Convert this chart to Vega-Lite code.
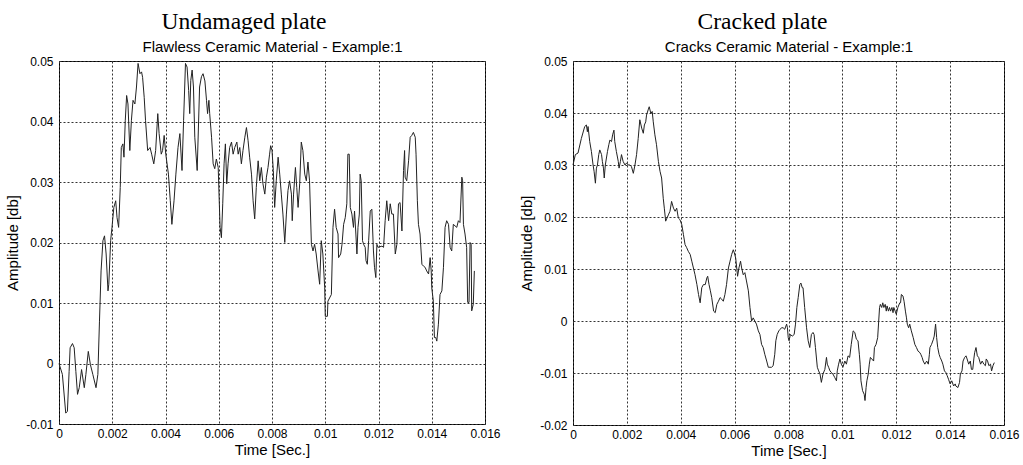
{
  "$schema": "https://vega.github.io/schema/vega-lite/v6.json",
  "background": "white",
  "padding": {"left": 5, "top": 9, "right": 5, "bottom": 2},
  "spacing": 18,
  "config": {
    "view": {"stroke": "#000", "strokeWidth": 1},
    "font": "Liberation Sans",
    "axis": {"labelFont": "Liberation Sans", "labelFontSize": 12, "labelColor": "#000", "titleFont": "Liberation Sans", "titleFontSize": 15, "titleFontWeight": "normal", "titleColor": "#000", "domain": false, "ticks": false, "tickSize": 0, "gridColor": "#333", "gridDash": [2, 2], "gridWidth": 1, "gridOpacity": 1, "labelFlush": false, "labelOverlap": false},
    "title": {"font": "Liberation Serif", "fontSize": 23.5, "fontWeight": "normal", "color": "#000", "anchor": "middle", "frame": "group"}
  },
  "datasets": {
    "left": [
      {"t":0,"a":0},{"t":0.000127,"a":-0.0018},{"t":0.000253,"a":-0.0082},{"t":0.000316,"a":-0.0079},{"t":0.00038,"a":-0.0013},{"t":0.000418,"a":0.0026},{"t":0.000506,"a":0.0033},{"t":0.00057,"a":0.0026},{"t":0.000633,"a":-0.0013},{"t":0.000696,"a":-0.0051},{"t":0.00076,"a":-0.004},{"t":0.000848,"a":-0.001},{"t":0.00095,"a":-0.004},{"t":0.00101,"a":-0.0018},{"t":0.0011,"a":0.002},{"t":0.00118,"a":-0.0002},{"t":0.00127,"a":-0.0018},{"t":0.00139,"a":-0.004},{"t":0.00146,"a":-0.0018},{"t":0.00152,"a":0.007},{"t":0.00158,"a":0.0153},{"t":0.00165,"a":0.0203},{"t":0.00171,"a":0.0211},{"t":0.00177,"a":0.0181},{"t":0.00184,"a":0.012},{"t":0.00187,"a":0.0131},{"t":0.00194,"a":0.0203},{"t":0.00199,"a":0.0225},{"t":0.00206,"a":0.0258},{"t":0.00213,"a":0.0269},{"t":0.00218,"a":0.0241},{"t":0.00224,"a":0.0225},{"t":0.0023,"a":0.0291},{"t":0.00234,"a":0.0357},{"t":0.0024,"a":0.0363},{"t":0.00244,"a":0.0341},{"t":0.00249,"a":0.0402},{"t":0.00254,"a":0.0443},{"t":0.00259,"a":0.0429},{"t":0.00266,"a":0.0352},{"t":0.00272,"a":0.0402},{"t":0.00278,"a":0.0435},{"t":0.00285,"a":0.0429},{"t":0.00291,"a":0.0457},{"t":0.00297,"a":0.0496},{"t":0.00304,"a":0.0479},{"t":0.0031,"a":0.0482},{"t":0.00314,"a":0.0473},{"t":0.0032,"a":0.044},{"t":0.00325,"a":0.0402},{"t":0.00333,"a":0.0352},{"t":0.00342,"a":0.0357},{"t":0.00348,"a":0.0346},{"t":0.00356,"a":0.033},{"t":0.00363,"a":0.0352},{"t":0.00371,"a":0.0413},{"t":0.00376,"a":0.038},{"t":0.00384,"a":0.0346},{"t":0.00389,"a":0.0352},{"t":0.00395,"a":0.0377},{"t":0.00401,"a":0.0346},{"t":0.00411,"a":0.0313},{"t":0.00418,"a":0.0269},{"t":0.00424,"a":0.023},{"t":0.00432,"a":0.0269},{"t":0.00439,"a":0.0313},{"t":0.00447,"a":0.0357},{"t":0.00454,"a":0.038},{"t":0.00462,"a":0.0319},{"t":0.00468,"a":0.0402},{"t":0.00475,"a":0.0496},{"t":0.00481,"a":0.049},{"t":0.00487,"a":0.0451},{"t":0.00491,"a":0.0413},{"t":0.00495,"a":0.0468},{"t":0.005,"a":0.0485},{"t":0.00505,"a":0.0457},{"t":0.0051,"a":0.0374},{"t":0.00519,"a":0.0319},{"t":0.00528,"a":0.0457},{"t":0.00535,"a":0.0474},{"t":0.00541,"a":0.0479},
      {"t":0.00548,"a":0.0467},{"t":0.00554,"a":0.0435},{"t":0.00558,"a":0.0413},{"t":0.00563,"a":0.0435},{"t":0.00566,"a":0.0413},{"t":0.00573,"a":0.0374},{"t":0.00579,"a":0.033},{"t":0.00585,"a":0.0322},{"t":0.00591,"a":0.0338},{"t":0.00598,"a":0.0324},{"t":0.00601,"a":0.028},{"t":0.00605,"a":0.0225},{"t":0.0061,"a":0.0208},{"t":0.00615,"a":0.0264},{"t":0.0062,"a":0.033},{"t":0.00625,"a":0.0363},{"t":0.0063,"a":0.0297},{"t":0.00635,"a":0.033},{"t":0.00641,"a":0.0357},{"t":0.00648,"a":0.0366},{"t":0.00654,"a":0.0346},{"t":0.0066,"a":0.0357},{"t":0.00668,"a":0.0366},{"t":0.00673,"a":0.0346},{"t":0.00679,"a":0.0357},{"t":0.00685,"a":0.033},{"t":0.00691,"a":0.0352},{"t":0.00698,"a":0.0374},{"t":0.00704,"a":0.039},{"t":0.0071,"a":0.0369},{"t":0.00716,"a":0.0341},{"t":0.00723,"a":0.0313},{"t":0.00729,"a":0.0269},{"t":0.00735,"a":0.0239},{"t":0.00741,"a":0.0291},{"t":0.00748,"a":0.0335},{"t":0.00754,"a":0.0302},{"t":0.0076,"a":0.0324},{"t":0.00766,"a":0.0297},{"t":0.00773,"a":0.028},{"t":0.00779,"a":0.0308},{"t":0.00785,"a":0.0324},{"t":0.00791,"a":0.0346},{"t":0.00795,"a":0.036},{"t":0.008,"a":0.0352},{"t":0.00805,"a":0.0319},{"t":0.0081,"a":0.0258},{"t":0.00816,"a":0.0302},{"t":0.00823,"a":0.0341},{"t":0.00829,"a":0.0313},{"t":0.00835,"a":0.028},{"t":0.00841,"a":0.0247},{"t":0.00848,"a":0.02},{"t":0.00854,"a":0.0247},{"t":0.0086,"a":0.0286},{"t":0.00866,"a":0.0302},{"t":0.00873,"a":0.028},{"t":0.00876,"a":0.0236},{"t":0.00881,"a":0.028},{"t":0.00888,"a":0.0324},{"t":0.00893,"a":0.0291},{"t":0.00898,"a":0.0258},{"t":0.00904,"a":0.0297},{"t":0.0091,"a":0.0366},{"t":0.00916,"a":0.0352},{"t":0.00923,"a":0.0313},{"t":0.00929,"a":0.0302},{"t":0.00935,"a":0.0333},{"t":0.00941,"a":0.0302},{"t":0.00948,"a":0.0197},{"t":0.00954,"a":0.0186},{"t":0.0096,"a":0.0197},{"t":0.00966,"a":0.0181},{"t":0.00973,"a":0.0153},{"t":0.00979,"a":0.0131},{"t":0.00985,"a":0.0203},{"t":0.00991,"a":0.0181},{"t":0.00998,"a":0.0125},{"t":0.01,"a":0.0078},{"t":0.01008,"a":0.0078},{"t":0.0101,"a":0.0103},{"t":0.01023,"a":0.0114},{"t":0.01029,"a":0.0225},{"t":0.01035,"a":0.0255},{"t":0.01041,"a":0.0225},{"t":0.01048,"a":0.0214},{"t":0.0105,"a":0.0175},{"t":0.01058,"a":0.0181},{"t":0.01063,"a":0.0197},{"t":0.01069,"a":0.023},
      {"t":0.01075,"a":0.0241},{"t":0.01081,"a":0.0264},{"t":0.01085,"a":0.0346},{"t":0.0109,"a":0.0346},{"t":0.01094,"a":0.0258},{"t":0.011,"a":0.0247},{"t":0.01106,"a":0.0225},{"t":0.0111,"a":0.0252},{"t":0.01115,"a":0.0214},{"t":0.01119,"a":0.0181},{"t":0.01123,"a":0.0225},{"t":0.01128,"a":0.0247},{"t":0.01131,"a":0.0313},{"t":0.01135,"a":0.0302},{"t":0.0114,"a":0.0203},{"t":0.01144,"a":0.0197},{"t":0.0115,"a":0.0192},{"t":0.01153,"a":0.017},{"t":0.01158,"a":0.0164},{"t":0.01163,"a":0.0203},{"t":0.01169,"a":0.0252},{"t":0.01175,"a":0.0255},{"t":0.01181,"a":0.0186},{"t":0.01185,"a":0.0159},{"t":0.0119,"a":0.0142},{"t":0.01194,"a":0.0197},{"t":0.01198,"a":0.0192},{"t":0.01213,"a":0.0194},{"t":0.01219,"a":0.0192},{"t":0.01225,"a":0.0236},{"t":0.01231,"a":0.0269},{"t":0.01238,"a":0.0236},{"t":0.01244,"a":0.0264},{"t":0.0125,"a":0.0247},{"t":0.01256,"a":0.0247},{"t":0.01263,"a":0.0181},{"t":0.01269,"a":0.0197},{"t":0.01275,"a":0.0264},{"t":0.01281,"a":0.0266},{"t":0.01288,"a":0.0219},{"t":0.01294,"a":0.0319},{"t":0.01298,"a":0.0352},{"t":0.013,"a":0.0308},{"t":0.01306,"a":0.0302},{"t":0.01313,"a":0.0335},{"t":0.01319,"a":0.0374},{"t":0.01325,"a":0.0377},{"t":0.01331,"a":0.0382},{"t":0.01338,"a":0.0374},{"t":0.01341,"a":0.0346},{"t":0.01346,"a":0.0269},{"t":0.0135,"a":0.023},{"t":0.01356,"a":0.0214},{"t":0.01363,"a":0.0164},{"t":0.01369,"a":0.0161},{"t":0.01375,"a":0.0159},{"t":0.01381,"a":0.0153},{"t":0.01388,"a":0.0148},{"t":0.01394,"a":0.0175},{"t":0.01398,"a":0.0153},{"t":0.014,"a":0.0125},{"t":0.01406,"a":0.0103},{"t":0.0141,"a":0.0043},{"t":0.01415,"a":0.0043},{"t":0.01419,"a":0.0037},{"t":0.01425,"a":0.0065},{"t":0.01431,"a":0.0114},{"t":0.01438,"a":0.012},{"t":0.01444,"a":0.0159},{"t":0.0145,"a":0.0225},{"t":0.01456,"a":0.0236},{"t":0.01463,"a":0.023},{"t":0.01469,"a":0.0192},{"t":0.01475,"a":0.0186},{"t":0.01481,"a":0.023},{"t":0.01494,"a":0.0225},{"t":0.015,"a":0.0236},{"t":0.01506,"a":0.0233},{"t":0.01513,"a":0.0308},{"t":0.01516,"a":0.0302},{"t":0.01519,"a":0.023},{"t":0.01525,"a":0.0214},{"t":0.01531,"a":0.0192},{"t":0.01535,"a":0.0101},{"t":0.0154,"a":0.0101},{"t":0.01544,"a":0.02},{"t":0.01548,"a":0.0197},{"t":0.0155,"a":0.0087},{"t":0.01556,"a":0.0098},{"t":0.0156,"a":0.0153}
    ],
    "right": [
      {"t":0,"a":0.03},{"t":0.000087,"a":0.032},{"t":0.000186,"a":0.0323},{"t":0.00031,"a":0.0351},{"t":0.000435,"a":0.0374},{"t":0.000497,"a":0.0377},{"t":0.000534,"a":0.0364},{"t":0.000559,"a":0.0374},{"t":0.000621,"a":0.0345},{"t":0.000683,"a":0.0326},{"t":0.000745,"a":0.03},{"t":0.000782,"a":0.0288},{"t":0.000832,"a":0.0265},{"t":0.000869,"a":0.0294},{"t":0.000907,"a":0.03},{"t":0.000956,"a":0.032},{"t":0.000994,"a":0.0329},{"t":0.00106,"a":0.032},{"t":0.00109,"a":0.0307},{"t":0.00113,"a":0.0294},{"t":0.00116,"a":0.0275},{"t":0.0012,"a":0.03},{"t":0.00128,"a":0.0326},{"t":0.00133,"a":0.0339},{"t":0.00137,"a":0.0348},{"t":0.00143,"a":0.0345},{"t":0.00147,"a":0.0358},{"t":0.00152,"a":0.0367},{"t":0.00155,"a":0.0345},{"t":0.00161,"a":0.0326},{"t":0.00168,"a":0.0307},{"t":0.00171,"a":0.0294},{"t":0.00176,"a":0.0307},{"t":0.0018,"a":0.032},{"t":0.00186,"a":0.0307},{"t":0.00193,"a":0.03},{"t":0.00199,"a":0.0304},{"t":0.00205,"a":0.03},{"t":0.00211,"a":0.03},{"t":0.00217,"a":0.0297},{"t":0.00224,"a":0.0284},{"t":0.0023,"a":0.03},{"t":0.00236,"a":0.032},{"t":0.00242,"a":0.0351},{"t":0.00248,"a":0.0387},{"t":0.00255,"a":0.0371},{"t":0.00261,"a":0.0361},{"t":0.00265,"a":0.0377},{"t":0.0027,"a":0.0383},{"t":0.00273,"a":0.0396},{"t":0.00279,"a":0.0406},{"t":0.00283,"a":0.0412},{"t":0.00289,"a":0.0399},{"t":0.00294,"a":0.0403},{"t":0.00298,"a":0.0383},{"t":0.00304,"a":0.0358},{"t":0.0031,"a":0.0339},{"t":0.00317,"a":0.0307},{"t":0.00323,"a":0.0288},{"t":0.00329,"a":0.0275},{"t":0.00335,"a":0.0236},{"t":0.00339,"a":0.0217},{"t":0.00344,"a":0.0192},{"t":0.00349,"a":0.0198},{"t":0.00354,"a":0.0204},{"t":0.0036,"a":0.0211},{"t":0.00366,"a":0.023},{"t":0.00373,"a":0.0217},{"t":0.00379,"a":0.0211},{"t":0.00385,"a":0.0217},{"t":0.00391,"a":0.0198},{"t":0.00397,"a":0.0195},{"t":0.00404,"a":0.0185},{"t":0.0041,"a":0.0166},{"t":0.00416,"a":0.0147},{"t":0.00422,"a":0.0141},{"t":0.00428,"a":0.0134},{"t":0.00435,"a":0.0128},{"t":0.00441,"a":0.0115},{"t":0.00447,"a":0.0102},{"t":0.00453,"a":0.0089},{"t":0.0046,"a":0.007},{"t":0.00466,"a":0.0051},{"t":0.00472,"a":0.0035},{"t":0.00478,"a":0.0064},{"t":0.00484,"a":0.007},{"t":0.00491,"a":0.007},{"t":0.00497,"a":0.0083},{"t":0.005,"a":0.0086},{"t":0.00505,"a":0.007},{"t":0.0051,"a":0.0058},{"t":0.00515,"a":0.0045},{"t":0.00522,"a":0.0019},{"t":0.00528,"a":0.0016},{"t":0.00534,"a":0.0032},{"t":0.0054,"a":0.0038},
      {"t":0.00546,"a":0.0045},{"t":0.00552,"a":0.0042},{"t":0.00558,"a":0.0038},{"t":0.00564,"a":0.0051},{"t":0.0057,"a":0.007},{"t":0.00577,"a":0.0102},{"t":0.00583,"a":0.0115},{"t":0.00589,"a":0.0128},{"t":0.00595,"a":0.0137},{"t":0.00599,"a":0.0131},{"t":0.00604,"a":0.0121},{"t":0.00611,"a":0.0086},{"t":0.00616,"a":0.0102},{"t":0.00622,"a":0.0115},{"t":0.00626,"a":0.0102},{"t":0.00632,"a":0.0089},{"t":0.00638,"a":0.0093},{"t":0.00644,"a":0.0077},{"t":0.00651,"a":0.0058},{"t":0.00657,"a":0.0026},{"t":0.00663,"a":0},{"t":0.00669,"a":0.0006},{"t":0.00675,"a":0},{"t":0.00681,"a":-0.0006},{"t":0.00688,"a":-0.0019},{"t":0.00694,"a":-0.0026},{"t":0.007,"a":-0.0045},{"t":0.00706,"a":-0.0051},{"t":0.00712,"a":-0.0064},{"t":0.00719,"a":-0.0077},{"t":0.00725,"a":-0.0089},{"t":0.00731,"a":-0.0089},{"t":0.00737,"a":-0.0089},{"t":0.00743,"a":-0.0086},{"t":0.00749,"a":-0.0064},{"t":0.00753,"a":-0.0038},{"t":0.00758,"a":-0.0026},{"t":0.00764,"a":-0.0019},{"t":0.00769,"a":-0.0016},{"t":0.00774,"a":-0.0013},{"t":0.0078,"a":-0.0013},{"t":0.00786,"a":-0.0016},{"t":0.00793,"a":-0.0006},{"t":0.00796,"a":-0.0013},{"t":0.00799,"a":-0.0032},{"t":0.00802,"a":-0.0038},{"t":0.00807,"a":-0.0026},{"t":0.00814,"a":-0.0029},{"t":0.00821,"a":-0.0026},{"t":0.00826,"a":-0.0006},{"t":0.00831,"a":0.0026},{"t":0.00836,"a":0.0045},{"t":0.00842,"a":0.007},{"t":0.00846,"a":0.0073},{"t":0.00851,"a":0.0064},{"t":0.00854,"a":0.0064},{"t":0.0086,"a":0.0026},{"t":0.00867,"a":-0.0013},{"t":0.00873,"a":-0.0038},{"t":0.00879,"a":-0.0051},{"t":0.00885,"a":-0.0026},{"t":0.00891,"a":-0.0022},{"t":0.00895,"a":-0.0026},{"t":0.009,"a":-0.0051},{"t":0.00907,"a":-0.0089},{"t":0.00912,"a":-0.0096},{"t":0.00917,"a":-0.0102},{"t":0.00922,"a":-0.0118},{"t":0.00928,"a":-0.0102},{"t":0.00935,"a":-0.0093},{"t":0.00941,"a":-0.007},{"t":0.00944,"a":-0.0083},{"t":0.00949,"a":-0.0089},{"t":0.00954,"a":-0.0096},{"t":0.00959,"a":-0.0099},{"t":0.00965,"a":-0.0102},{"t":0.00972,"a":-0.0109},{"t":0.00978,"a":-0.0115},{"t":0.00981,"a":-0.0096},{"t":0.00986,"a":-0.0083},{"t":0.00991,"a":-0.0073},{"t":0.00996,"a":-0.0083},{"t":0.01002,"a":-0.0089},{"t":0.01009,"a":-0.0077},{"t":0.01015,"a":-0.0083},{"t":0.01021,"a":-0.0067},{"t":0.01027,"a":-0.007},{"t":0.01033,"a":-0.0045},{"t":0.0104,"a":-0.0019},{"t":0.01046,"a":-0.0022},{"t":0.01052,"a":-0.0035},{"t":0.01058,"a":-0.0038},
      {"t":0.01063,"a":-0.0064},{"t":0.01066,"a":-0.0083},{"t":0.01069,"a":-0.0115},{"t":0.01075,"a":-0.0134},{"t":0.01081,"a":-0.0141},{"t":0.01084,"a":-0.0153},{"t":0.01088,"a":-0.0128},{"t":0.01091,"a":-0.0115},{"t":0.01096,"a":-0.0102},{"t":0.011,"a":-0.0083},{"t":0.01104,"a":-0.007},{"t":0.01109,"a":-0.0073},{"t":0.01116,"a":-0.0077},{"t":0.01119,"a":-0.0051},{"t":0.01125,"a":-0.0045},{"t":0.01131,"a":-0.0032},{"t":0.01138,"a":0.0026},{"t":0.01141,"a":0.0032},{"t":0.01146,"a":0.0026},{"t":0.0115,"a":0.0035},{"t":0.01154,"a":0.0026},{"t":0.01159,"a":0.0032},{"t":0.01163,"a":0.0019},{"t":0.01166,"a":0.0029},{"t":0.01171,"a":0.0019},{"t":0.01175,"a":0.0026},{"t":0.01179,"a":0.0019},{"t":0.01184,"a":0.0026},{"t":0.01188,"a":0.0016},{"t":0.01191,"a":0.0026},{"t":0.01196,"a":0.0019},{"t":0.012,"a":0.0013},{"t":0.01206,"a":0.0026},{"t":0.01213,"a":0.0035},{"t":0.01216,"a":0.0035},{"t":0.01219,"a":0.0051},{"t":0.01225,"a":0.0048},{"t":0.01229,"a":0.0038},{"t":0.01234,"a":0.0019},{"t":0.01238,"a":0.0006},{"t":0.01241,"a":-0.0006},{"t":0.01246,"a":-0.0013},{"t":0.0125,"a":-0.0006},{"t":0.01256,"a":-0.0019},{"t":0.01263,"a":-0.0032},{"t":0.01269,"a":-0.0045},{"t":0.01275,"a":-0.0051},{"t":0.01281,"a":-0.0058},{"t":0.01288,"a":-0.0061},{"t":0.01291,"a":-0.0064},{"t":0.01296,"a":-0.007},{"t":0.013,"a":-0.0077},{"t":0.01306,"a":-0.0083},{"t":0.01313,"a":-0.0077},{"t":0.01319,"a":-0.0083},{"t":0.01323,"a":-0.0064},{"t":0.01325,"a":-0.0051},{"t":0.01331,"a":-0.0045},{"t":0.01338,"a":-0.0035},{"t":0.01341,"a":-0.0029},{"t":0.01346,"a":-0.0006},{"t":0.0135,"a":-0.0032},{"t":0.01354,"a":-0.0051},{"t":0.01359,"a":-0.0064},{"t":0.01363,"a":-0.007},{"t":0.01369,"a":-0.0077},{"t":0.01373,"a":-0.0083},{"t":0.01379,"a":-0.0096},{"t":0.01384,"a":-0.0099},{"t":0.01389,"a":-0.0105},{"t":0.01394,"a":-0.0112},{"t":0.014,"a":-0.0121},{"t":0.01406,"a":-0.0115},{"t":0.01413,"a":-0.0125},{"t":0.01419,"a":-0.0121},{"t":0.01421,"a":-0.0125},{"t":0.01429,"a":-0.0128},{"t":0.01435,"a":-0.0118},{"t":0.01438,"a":-0.0102},{"t":0.01444,"a":-0.0096},{"t":0.01448,"a":-0.0077},{"t":0.01454,"a":-0.007},{"t":0.01459,"a":-0.0067},{"t":0.01463,"a":-0.0073},{"t":0.01469,"a":-0.0083},{"t":0.01475,"a":-0.0077},{"t":0.01479,"a":-0.0093},{"t":0.01484,"a":-0.0093},{"t":0.01488,"a":-0.0073},{"t":0.01491,"a":-0.0061},{"t":0.01496,"a":-0.0051},{"t":0.01501,"a":-0.0067},{"t":0.01506,"a":-0.007},{"t":0.01513,"a":-0.0083},{"t":0.01519,"a":-0.0077},{"t":0.01525,"a":-0.0083},{"t":0.01531,"a":-0.0086},{"t":0.01534,"a":-0.0073},{"t":0.01539,"a":-0.0077},{"t":0.01544,"a":-0.0086},{"t":0.0155,"a":-0.0083},{"t":0.01554,"a":-0.0096},{"t":0.01559,"a":-0.0086},{"t":0.01564,"a":-0.008}
    ]
  },
  "hconcat": [
    {
      "width": 426,
      "height": 363,
      "title": {"text": "Undamaged plate", "dx": -28, "offset": 6},
      "data": {"name": "left"},
      "layer": [
        {
          "mark": {"type": "line", "color": "#222", "strokeWidth": 1},
          "encoding": {
            "x": {"field": "t", "type": "quantitative", "scale": {"domain": [0, 0.016], "nice": false},
                  "axis": {"orient": "bottom", "title": "Time [Sec.]", "grid": true, "values": [0, 0.002, 0.004, 0.006, 0.008, 0.01, 0.012, 0.014, 0.016], "labelExpr": "replace(format(datum.value, '~g'), '−', '-')", "labelPadding": 4, "titlePadding": 3}},
            "y": {"field": "a", "type": "quantitative", "scale": {"domain": [-0.01, 0.05], "nice": false},
                  "axis": {"title": "Amplitude [db]", "grid": true, "values": [-0.01, 0, 0.01, 0.02, 0.03, 0.04, 0.05], "labelExpr": "replace(format(datum.value, '~g'), '−', '-')", "labelPadding": 6, "titlePadding": 5}}
          }
        },
        {
          "mark": {"type": "point", "opacity": 0},
          "encoding": {
            "x": {"field": "t", "type": "quantitative", "axis": {"orient": "top", "title": "Flawless Ceramic Material - Example:1", "labels": false, "grid": false, "titlePadding": 7}},
            "y": {"field": "a", "type": "quantitative"}
          }
        }
      ],
      "resolve": {"axis": {"x": "independent"}}
    },
    {
      "width": 431,
      "height": 364,
      "title": {"text": "Cracked plate", "dx": -26, "offset": 6},
      "data": {"name": "right"},
      "layer": [
        {
          "mark": {"type": "line", "color": "#222", "strokeWidth": 1},
          "encoding": {
            "x": {"field": "t", "type": "quantitative", "scale": {"domain": [0, 0.016], "nice": false},
                  "axis": {"orient": "bottom", "title": "Time [Sec.]", "grid": true, "values": [0, 0.002, 0.004, 0.006, 0.008, 0.01, 0.012, 0.014, 0.016], "labelExpr": "replace(format(datum.value, '~g'), '−', '-')", "labelPadding": 4, "titlePadding": 3}},
            "y": {"field": "a", "type": "quantitative", "scale": {"domain": [-0.02, 0.05], "nice": false},
                  "axis": {"title": "Amplitude [db]", "grid": true, "values": [-0.02, -0.01, 0, 0.01, 0.02, 0.03, 0.04, 0.05], "labelExpr": "replace(format(datum.value, '~g'), '−', '-')", "labelPadding": 6, "titlePadding": 5}}
          }
        },
        {
          "mark": {"type": "point", "opacity": 0},
          "encoding": {
            "x": {"field": "t", "type": "quantitative", "axis": {"orient": "top", "title": "Cracks Ceramic Material - Example:1", "labels": false, "grid": false, "titlePadding": 7}},
            "y": {"field": "a", "type": "quantitative"}
          }
        }
      ],
      "resolve": {"axis": {"x": "independent"}}
    }
  ]
}
